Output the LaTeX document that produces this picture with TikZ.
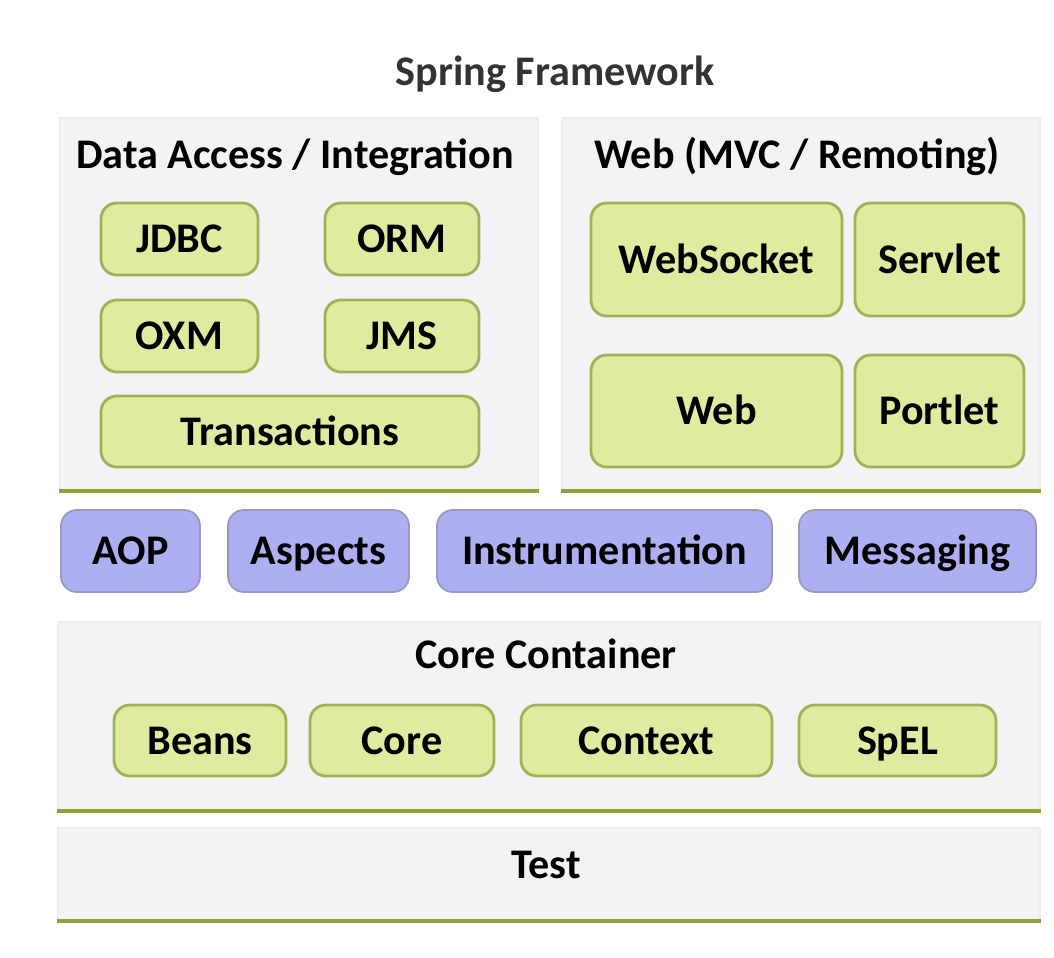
\documentclass[tikz,border=0pt]{standalone}
\usepackage{fontspec}
\setmainfont{Carlito}
\newdimen\px
\px=0.02cm
\definecolor{panelgray}{HTML}{F3F3F5}
\definecolor{modgreen}{HTML}{E1EBA0}
\definecolor{modedge}{HTML}{9DB35A}
\definecolor{aoppurple}{HTML}{AEAEF2}
\definecolor{aopedge}{HTML}{9A9AB8}
\definecolor{baseolive}{HTML}{8FA33A}
\tikzset{
  panel/.style={fill=panelgray, draw=black!7, line width=0.8pt, inner sep=0pt},
  module/.style={draw=modedge, fill=modgreen, line width=1.6pt, rounded corners=9pt,
    font=\fontsize{24}{28}\selectfont\bfseries, minimum height=72\px, inner sep=0pt,
    text height=15.5pt, text depth=0pt},
  aopbox/.style={draw=aopedge, fill=aoppurple, line width=1pt, rounded corners=9pt,
    font=\fontsize{24}{28}\selectfont\bfseries, minimum height=82\px, inner sep=0pt,
    text height=15.5pt, text depth=0pt},
  paneltitle/.style={font=\fontsize{24}{28}\selectfont\bfseries, text height=15.5pt, text depth=0pt},
  baseline/.style={draw=baseolive, line width=2.4pt}
}
\begin{document}
\begin{tikzpicture}[x=0.02cm, y=-0.02cm]
\useasboundingbox[fill=white] (0,0) rectangle (1054,957);
\node[paneltitle, text=black!80] (title) at (555,72) {Spring Framework};
% panels
\node[panel, minimum width=478\px, minimum height=372\px] (data) at (299,304) {};
\node[panel, minimum width=478\px, minimum height=372\px] (web) at (801,304) {};
\node[panel, minimum width=982\px, minimum height=188\px] (core) at (549,716) {};
\node[panel, minimum width=982\px, minimum height=92\px] (test) at (549,874) {};
\draw[baseline] (data.south west) -- (data.south east);
\draw[baseline] (web.south west) -- (web.south east);
\draw[baseline] (core.south west) -- (core.south east);
\draw[baseline] (test.south west) -- (test.south east);
\node[paneltitle] (datatitle) at (295,155) {Data Access / Integration};
\node[paneltitle] (webtitle) at (797,155) {Web (MVC / Remoting)};
\node[paneltitle] (coretitle) at (546,655) {Core Container};
\node[paneltitle] (testtitle) at (546,865) {Test};
% data access
\node[module, minimum width=157\px] (jdbc) at (179.5,239) {JDBC};
\node[module, minimum width=154\px] (orm) at (402,239) {ORM};
\node[module, minimum width=157\px] (oxm) at (179.5,336) {OXM};
\node[module, minimum width=154\px] (jms) at (402,336) {JMS};
\node[module, minimum width=378\px, minimum height=71\px] (tx) at (290,431.5) {Transactions};
% web
\node[module, minimum width=251\px, minimum height=113\px] (websocket) at (716.5,259.5) {WebSocket};
\node[module, minimum width=169\px, minimum height=113\px] (servlet) at (939.5,259.5) {Servlet};
\node[module, minimum width=251\px, minimum height=112\px] (webmod) at (716.5,411) {Web};
\node[module, minimum width=169\px, minimum height=112\px] (portlet) at (939.5,411) {Portlet};
% aop row
\node[aopbox, minimum width=139\px] (aop) at (130.5,551) {AOP};
\node[aopbox, minimum width=181\px] (aspects) at (318.5,551) {Aspects};
\node[aopbox, minimum width=335\px] (instr) at (604.5,551) {Instrumentation};
\node[aopbox, minimum width=237\px] (msg) at (917.5,551) {Messaging};
% core container
\node[module, minimum width=172\px, minimum height=71\px] (beans) at (200,740.5) {Beans};
\node[module, minimum width=184\px, minimum height=71\px] (coremod) at (402,740.5) {Core};
\node[module, minimum width=251\px, minimum height=71\px] (context) at (646.5,740.5) {Context};
\node[module, minimum width=197\px, minimum height=71\px] (spel) at (897.5,740.5) {SpEL};
\end{tikzpicture}
\end{document}
